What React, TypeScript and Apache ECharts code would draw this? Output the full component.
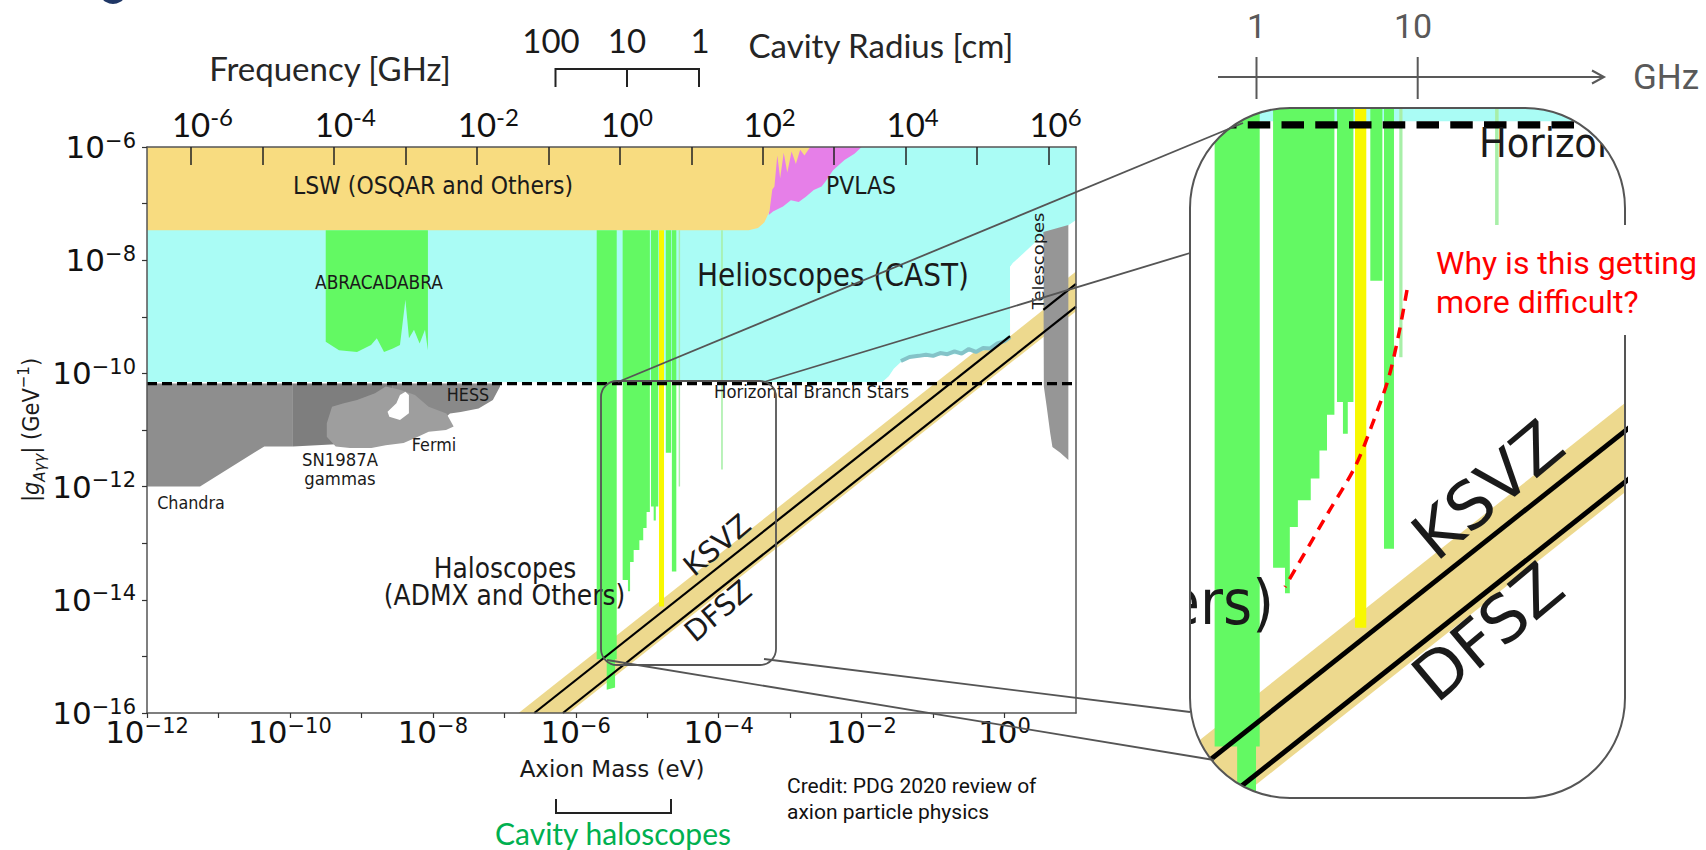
import { useEffect, useRef } from 'react';
import * as echarts from 'echarts';

// ---------------- DATA (log10 units) ----------------
// x = log10(m_a / eV), y = log10(|g_Aγγ| / GeV^-1)
const MASS_MIN = -12;
const MASS_MAX = 1;
const COUPLING_MIN = -16;
const COUPLING_MAX = -6;
const MASS_TICKS = [-12, -11, -10, -9, -8, -7, -6, -5, -4, -3, -2, -1, 0];
const MASS_LABELS = [-12, -10, -8, -6, -4, -2, 0];
const COUPLING_TICKS = [-16, -15, -14, -13, -12, -11, -10, -9, -8, -7, -6];
const COUPLING_LABELS = [-16, -14, -12, -10, -8, -6];
// top axis: frequency in GHz, f = m / 4.1357e-6 eV
const LOG_GHZ_PER_EV = 5.3835;
const FREQ_TICKS = [-6, -5, -4, -3, -2, -1, 0, 1, 2, 3, 4, 5, 6];
const FREQ_LABELS = [-6, -4, -2, 0, 2, 4, 6];
// magnified inset window
const INSET_MASS = [-5.86, -3.158];
const INSET_COUPLING = [-15.454, -10.047];

type Pt = [number, number];

const AXION_BAND: Pt[] = [[-6.8, -16], [1.0, -8.2], [1.0, -8.9], [-6.1, -16]];
const KSVZ_LOW: Pt[] = [[-6.58, -16], [0.077, -9.343]];
const KSVZ_HIGH: Pt[] = [[0.543, -8.877], [1.0, -8.42]];
const DFSZ: Pt[] = [[-6.18, -16], [1.0, -8.82]];
const HB_STARS: Pt[] = [[-12, -10.18], [1.0, -10.18]];

const HELIOSCOPES: Pt[] = [
  [-12, -6], [1.0, -6], [1.0, -7.29], [0.118, -8.05], [0.077, -8.12], [0.077, -9.36],
  [0.0, -9.42], [-0.1, -9.5], [-0.2, -9.55], [-0.3, -9.6], [-0.45, -9.6], [-0.6, -9.66],
  [-0.8, -9.66], [-1.0, -9.7], [-1.2, -9.71], [-1.33, -9.73], [-1.45, -9.8], [-1.55, -9.92],
  [-1.62, -10.05], [-1.71, -10.15], [-12, -10.15],
];
const CAST_EDGE: Pt[] = [
  [-1.45, -9.78], [-1.33, -9.71], [-1.2, -9.69], [-1.1, -9.67], [-1.0, -9.69], [-0.9, -9.64],
  [-0.8, -9.66], [-0.7, -9.61], [-0.6, -9.65], [-0.5, -9.57], [-0.4, -9.62], [-0.3, -9.55],
  [-0.2, -9.56], [-0.1, -9.47], [0.0, -9.43], [0.077, -9.36],
];
const PVLAS: Pt[] = [
  [-3.3, -7.2], [-3.2, -6.0], [-2.0, -6.0], [-2.1, -6.12], [-2.24, -6.23], [-2.4, -6.41],
  [-2.5, -6.6], [-2.56, -6.7], [-2.67, -6.76], [-2.78, -6.88], [-2.88, -6.97], [-2.99, -6.94],
  [-3.1, -7.05], [-3.24, -7.14],
];
const LSW: Pt[] = [
  [-12, -6], [-2.72, -6], [-2.8, -6.15], [-2.86, -6.05], [-2.92, -6.3], [-2.98, -6.08],
  [-3.04, -6.45], [-3.09, -6.1], [-3.14, -6.55], [-3.18, -6.15], [-3.22, -6.7], [-3.25, -6.75],
  [-3.29, -7.14], [-3.36, -7.33], [-3.45, -7.43], [-3.58, -7.47], [-12, -7.47],
];
const ABRACADABRA: Pt[] = [
  [-9.499, -7.47], [-8.069, -7.47], [-8.069, -9.59], [-8.11, -9.23], [-8.185, -9.47],
  [-8.264, -9.23], [-8.334, -9.38], [-8.384, -8.7], [-8.46, -9.5], [-8.559, -9.56],
  [-8.683, -9.62], [-8.784, -9.38], [-8.865, -9.5], [-9.061, -9.62], [-9.313, -9.59], [-9.499, -9.44],
];
const CHANDRA: Pt[] = [
  [-12, -10.18], [-9.958, -10.18], [-9.958, -11.29], [-10.359, -11.29], [-11.258, -12.0], [-12, -12.0],
];
const SN1987A: Pt[] = [[-9.958, -10.18], [-8.56, -10.18], [-8.56, -11.2], [-9.958, -11.29]];
const HESS: Pt[] = [
  [-8.559, -10.18], [-7.06, -10.18], [-7.06, -10.23], [-7.16, -10.47], [-7.36, -10.62],
  [-7.61, -10.68], [-7.76, -10.71], [-7.86, -10.82], [-8.06, -10.75], [-8.3, -10.5], [-8.559, -10.35],
];
const FERMI: Pt[] = [
  [-9.484, -10.88], [-9.411, -10.59], [-9.259, -10.53], [-9.061, -10.47], [-8.809, -10.35],
  [-8.66, -10.23], [-8.46, -10.29], [-8.25, -10.38], [-8.059, -10.59], [-7.81, -10.71],
  [-7.709, -10.94], [-7.816, -11.0], [-8.059, -11.03], [-8.209, -11.12], [-8.409, -11.23],
  [-8.66, -11.27], [-8.86, -11.32], [-9.159, -11.32], [-9.359, -11.29], [-9.484, -11.12],
];
const FERMI_GAP: Pt[] = [
  [-8.609, -10.765], [-8.634, -10.677], [-8.51, -10.528], [-8.46, -10.382], [-8.384, -10.323],
  [-8.335, -10.382], [-8.335, -10.705], [-8.46, -10.823],
];
const HALO_A: Pt[] = [
  [-5.707, -7.47], [-5.427, -7.47], [-5.427, -15.05], [-5.45, -15.05], [-5.45, -15.55],
  [-5.567, -15.59], [-5.567, -15.05], [-5.707, -15.05],
];
const HALO_B: Pt[] = [
  [-5.344, -7.47], [-4.963, -7.47], [-4.963, -12.45], [-5.009, -12.45], [-5.009, -12.73],
  [-5.056, -12.73], [-5.056, -12.95], [-5.11, -12.95], [-5.11, -13.12], [-5.19, -13.12],
  [-5.19, -13.33], [-5.24, -13.33], [-5.24, -13.85], [-5.27, -13.85], [-5.27, -13.65], [-5.344, -13.65],
];
const HALO_C: Pt[] = [
  [-4.947, -7.47], [-4.845, -7.47], [-4.845, -12.35], [-4.88, -12.35], [-4.88, -12.6],
  [-4.91, -12.6], [-4.91, -12.35], [-4.947, -12.35],
];
const HALO_YELLOW: Pt[] = [[-4.835, -7.47], [-4.765, -7.47], [-4.765, -14.12], [-4.835, -14.12]];
const HALO_D: Pt[] = [[-4.74, -7.47], [-4.665, -7.47], [-4.665, -11.4], [-4.74, -11.4]];
const HALO_E: Pt[] = [[-4.655, -7.47], [-4.593, -7.47], [-4.593, -13.5], [-4.655, -13.5]];
const HALO_F: Pt[] = [[-4.56, -7.47], [-4.54, -7.47], [-4.54, -12.0], [-4.56, -12.0]];
const HALO_G: Pt[] = [[-3.965, -7.47], [-3.943, -7.47], [-3.943, -11.7], [-3.965, -11.7]];
const TELESCOPES: Pt[] = [
  [0.543, -7.5], [0.893, -7.38], [0.893, -11.53], [0.78, -11.4], [0.67, -11.3],
  [0.64, -11.06], [0.59, -10.59], [0.55, -10.23],
];
const TELESCOPE_GAP: Pt[] = [[0.077, -8.12], [0.118, -8.05], [0.543, -7.55], [0.543, -8.877], [0.077, -9.343]];

// ---------------- STYLE ----------------
const COL = {
  band: '#EDD98E',
  cyan: '#AAFCF5',
  castEdge: '#84C3C8',
  pvlas: '#E67FE8',
  lsw: '#F8DC80',
  green: '#63F963',
  lightGreen: '#A8EFA8',
  yellow: '#F8F800',
  chandra: '#8E8E8E',
  sn: '#7E7E7E',
  hess: '#898989',
  fermi: '#9E9E9E',
  telescopes: '#969696',
};

function clipPoly(pts: number[][], x0: number, y0: number, x1: number, y1: number) {
  const inside = [
    (p: number[]) => p[0] >= x0,
    (p: number[]) => p[0] <= x1,
    (p: number[]) => p[1] >= y0,
    (p: number[]) => p[1] <= y1,
  ];
  const cut = [
    (a: number[], b: number[]) => [x0, a[1] + ((x0 - a[0]) / (b[0] - a[0])) * (b[1] - a[1])],
    (a: number[], b: number[]) => [x1, a[1] + ((x1 - a[0]) / (b[0] - a[0])) * (b[1] - a[1])],
    (a: number[], b: number[]) => [a[0] + ((y0 - a[1]) / (b[1] - a[1])) * (b[0] - a[0]), y0],
    (a: number[], b: number[]) => [a[0] + ((y1 - a[1]) / (b[1] - a[1])) * (b[0] - a[0]), y1],
  ];
  let out = pts;
  for (let k = 0; k < 4; k++) {
    const inp = out;
    out = [];
    if (!inp.length) break;
    for (let i = 0; i < inp.length; i++) {
      const cur = inp[i];
      const prev = inp[(i + inp.length - 1) % inp.length];
      const ci = inside[k](cur);
      const pi = inside[k](prev);
      if (ci) {
        if (!pi) out.push(cut[k](prev, cur));
        out.push(cur);
      } else if (pi) {
        out.push(cut[k](prev, cur));
      }
    }
  }
  return out;
}

function poly(pts: Pt[], color: string, xi: number, yi: number) {
  return {
    type: 'custom',
    xAxisIndex: xi,
    yAxisIndex: yi,
    silent: true,
    clip: true,
    data: [pts[0]],
    renderItem: (params: any, api: any) => {
      const cs = params.coordSys;
      const px = pts.map((p) => api.coord(p));
      const clipped = clipPoly(px, cs.x, cs.y, cs.x + cs.width, cs.y + cs.height);
      if (clipped.length < 3) return { type: 'group', children: [] };
      return { type: 'polygon', shape: { points: clipped }, style: { fill: color } };
    },
  };
}

function line(pts: Pt[], color: string, width: number, dash: any, xi: number, yi: number) {
  return {
    type: 'line',
    xAxisIndex: xi,
    yAxisIndex: yi,
    data: pts,
    symbol: 'none',
    showSymbol: false,
    silent: true,
    clip: true,
    lineStyle: { color, width, type: dash },
  };
}

function layer(xi: number, yi: number, k: number) {
  return [
    poly(AXION_BAND, COL.band, xi, yi),
    poly(HELIOSCOPES, COL.cyan, xi, yi),
    line(CAST_EDGE, COL.castEdge, 4 * k, 'solid', xi, yi),
    poly(PVLAS, COL.pvlas, xi, yi),
    poly(LSW, COL.lsw, xi, yi),
    poly(ABRACADABRA, COL.green, xi, yi),
    poly(CHANDRA, COL.chandra, xi, yi),
    poly(SN1987A, COL.sn, xi, yi),
    poly(HESS, COL.hess, xi, yi),
    poly(FERMI, COL.fermi, xi, yi),
    poly(FERMI_GAP, '#ffffff', xi, yi),
    poly(HALO_A, COL.green, xi, yi),
    poly(HALO_B, COL.green, xi, yi),
    poly(HALO_C, COL.green, xi, yi),
    poly(HALO_YELLOW, COL.yellow, xi, yi),
    poly(HALO_D, COL.green, xi, yi),
    poly(HALO_E, COL.green, xi, yi),
    poly(HALO_F, COL.lightGreen, xi, yi),
    poly(HALO_G, COL.lightGreen, xi, yi),
    poly(TELESCOPES, COL.telescopes, xi, yi),
    poly(TELESCOPE_GAP, '#ffffff', xi, yi),
    line(KSVZ_LOW, '#000', 2.2 * k, 'solid', xi, yi),
    line(KSVZ_HIGH, '#000', 2.2 * k, 'solid', xi, yi),
    line(DFSZ, '#000', 2.2 * k, 'solid', xi, yi),
    line(HB_STARS, '#000', 3.2 * k, [10 * k, 5 * k], xi, yi),
  ];
}

const expText = (v: number) => (v < 0 ? '\u2212' + Math.abs(v) : String(v));
const mplRich = {
  b: { fontFamily: 'DejaVu Sans', fontSize: 31, lineHeight: 34, color: '#111' },
  s: { fontFamily: 'DejaVu Sans', fontSize: 21, lineHeight: 21, verticalAlign: 'top', color: '#111' },
};
const topRich = {
  b: { fontFamily: 'Lato', fontSize: 33, lineHeight: 40, color: '#111' },
  s: { fontFamily: 'Lato', fontSize: 24, lineHeight: 24, verticalAlign: 'top', color: '#111' },
  g: { fontFamily: 'Lato', fontSize: 24, lineHeight: 24, verticalAlign: 'top', color: 'rgba(0,0,0,0)' },
};

const INK = '#1a1a1a';
const AX = '#555';

function mplText(text: string, x: number, y: number, size: number, extra: any = {}) {
  return {
    type: 'text',
    x,
    y,
    z: 50,
    scaleY: 1.12,
    silent: true,
    ...extra,
    style: {
      text,
      fontFamily: 'DejaVu Sans',
      fontSize: size,
      fill: INK,
      align: 'center',
      verticalAlign: 'middle',
      ...(extra.style || {}),
    },
  };
}

function slideText(text: string, x: number, y: number, size: number, family: string, fill: string, align = 'center', z = 50) {
  return {
    type: 'text',
    x,
    y,
    z,
    silent: true,
    style: { text, fontFamily: family, fontSize: size, fill, align, verticalAlign: 'middle' },
  };
}

function seg(points: number[][], stroke: string, width: number, z = 70, extra: any = {}) {
  return {
    type: 'polyline',
    z,
    silent: true,
    shape: { points, ...(extra.shape || {}) },
    style: { stroke, lineWidth: width, fill: 'none', ...(extra.style || {}) },
  };
}

// inset frame geometry (pixels)
const IL = 1190, IT = 108, IR = 1625, IB = 798, IRAD = 100;
function arcPts(cx: number, cy: number, r: number, a0: number, a1: number, n = 28) {
  const out: number[][] = [];
  for (let i = 0; i <= n; i++) {
    const a = a0 + ((a1 - a0) * i) / n;
    out.push([cx + r * Math.cos(a), cy + r * Math.sin(a)]);
  }
  return out;
}
const MASKS = [
  [[IL - 6, IT + IRAD], ...arcPts(IL + IRAD, IT + IRAD, IRAD, Math.PI, 1.5 * Math.PI), [IL + IRAD, IT - 6], [IL - 6, IT - 6]],
  [[IR - IRAD, IT - 6], ...arcPts(IR - IRAD, IT + IRAD, IRAD, 1.5 * Math.PI, 2 * Math.PI), [IR + 6, IT + IRAD], [IR + 6, IT - 6]],
  [[IR + 6, IB - IRAD], ...arcPts(IR - IRAD, IB - IRAD, IRAD, 0, 0.5 * Math.PI), [IR - IRAD, IB + 6], [IR + 6, IB + 6]],
  [[IL + IRAD, IB + 6], ...arcPts(IL + IRAD, IB - IRAD, IRAD, 0.5 * Math.PI, Math.PI), [IL - 6, IB - IRAD], [IL - 6, IB + 6]],
];

export default function App() {
  const ref = useRef<HTMLDivElement>(null);
  useEffect(() => {
    if (!ref.current) return;
    const chart = echarts.init(ref.current, undefined, { renderer: 'svg' });
    const deg = Math.PI / 180;

    const graphics: any[] = [
      { type: 'circle', z: 50, shape: { cx: 113, cy: -10, r: 14 }, style: { fill: '#1F3766' } },
      slideText('Frequency [GHz]', 330, 68, 33, 'Lato', '#262626'),
      slideText('100', 551, 40, 33, 'Lato', '#1a1a1a'),
      slideText('10', 627, 40, 33, 'Lato', '#1a1a1a'),
      slideText('1', 700, 40, 33, 'Lato', '#1a1a1a'),
      slideText('Cavity Radius [cm]', 881, 45, 33, 'Lato', '#262626'),
      seg([[555.5, 87], [555.5, 69], [699, 69], [699, 87]], '#222', 2),
      seg([[627, 69], [627, 87]], '#222', 2),
      {
        type: 'text',
        x: 31,
        y: 430,
        z: 50,
        rotation: Math.PI / 2,
        scaleX: 1.0,
        scaleY: 1.1,
        silent: true,
        style: {
          text: '{n||}{i|g}{sub|A\u03b3\u03b3}{n|| (GeV}{sup|\u22121}{n|)}',
          align: 'center',
          verticalAlign: 'middle',
          rich: {
            n: { fontFamily: 'DejaVu Sans', fontSize: 21, lineHeight: 30, fill: INK },
            i: { fontFamily: 'DejaVu Sans', fontSize: 21, fontStyle: 'italic', lineHeight: 30, fill: INK },
            sub: { fontFamily: 'DejaVu Sans', fontSize: 15, fontStyle: 'italic', lineHeight: 15, verticalAlign: 'bottom', fill: INK },
            sup: { fontFamily: 'DejaVu Sans', fontSize: 15, lineHeight: 15, verticalAlign: 'top', fill: INK },
          },
        },
      },
      slideText('Axion Mass (eV)', 612, 769, 23, 'DejaVu Sans', INK),
      seg([[556, 799], [556, 813], [671, 813], [671, 799]], '#222', 2),
      slideText('Cavity haloscopes', 613, 833, 30, 'Lato', '#00B050'),
      slideText('Credit: PDG 2020 review of', 787, 786, 21, 'Roboto', '#111', 'left'),
      slideText('axion particle physics', 787, 812, 21, 'Roboto', '#111', 'left'),

      // labels inside the main plot
      mplText('LSW (OSQAR and Others)', 433, 186, 22),
      mplText('PVLAS', 861, 186, 22),
      mplText('ABRACADABRA', 379, 282, 17),
      mplText('Helioscopes (CAST)', 833, 275, 28),
      mplText('Telescopes', 1038, 261, 16, { rotation: Math.PI / 2, scaleY: 1, scaleX: 1.12 }),
      mplText('Horizontal Branch Stars', 714, 391.5, 16.5, { style: { align: 'left' } }),
      mplText('HESS', 468, 395, 16),
      mplText('Fermi', 434, 445, 16),
      mplText('SN1987A', 340, 460, 16.5),
      mplText('gammas', 340, 479, 16.5),
      mplText('Chandra', 191, 503, 16),
      mplText('Haloscopes', 505, 568, 25),
      mplText('(ADMX and Others)', 504.5, 595, 25),
      mplText('KSVZ', 717, 545, 29, { rotation: 40 * deg, scaleY: 1 }),
      mplText('DFSZ', 718, 611, 29, { rotation: 40 * deg, scaleY: 1 }),

      // labels inside the magnified inset (cut by the inset outline)
      mplText('Horizon', 1479, 143, 37, { style: { align: 'left' } }),
      mplText('hers)', 1274, 602, 56, { style: { align: 'right' } }),
      mplText('KSVZ', 1488, 490, 65, { rotation: 40 * deg, scaleY: 1 }),
      mplText('DFSZ', 1488, 632, 65, { rotation: 40 * deg, scaleY: 1 }),

      // white masks giving the inset its rounded shape
      ...MASKS.map((pts) => ({ type: 'polygon', z: 60, silent: true, shape: { points: pts }, style: { fill: '#ffffff' } })),
      { type: 'rect', z: 60, silent: true, shape: { x: IR + 1, y: 100, width: 1706 - IR, height: 110 }, style: { fill: '#ffffff' } },
      { type: 'rect', z: 60, silent: true, shape: { x: 1120, y: 565, width: IL - 1120 - 0.5, height: 80 }, style: { fill: '#ffffff' } },

      // zoom frame, connectors, inset frame
      { type: 'rect', z: 70, silent: true, shape: { x: 601, y: 381, width: 175, height: 284, r: 16 }, style: { fill: 'none', stroke: AX, lineWidth: 1.8 } },
      seg([[618, 382], [1243, 123]], AX, 1.8),
      seg([[764, 382], [IL, 253]], AX, 1.8),
      seg([[764, 659], [IL, 712]], AX, 1.8),
      seg([[607, 660], [1214, 760]], AX, 1.8),
      { type: 'rect', z: 70, silent: true, shape: { x: IL, y: IT, width: IR - IL, height: IB - IT, r: IRAD }, style: { fill: 'none', stroke: AX, lineWidth: 2 } },

      // GHz scale above inset
      seg([[1218, 77], [1604, 77]], '#595959', 2),
      seg([[1592, 70.5], [1604, 77], [1592, 83.5]], '#595959', 2),
      seg([[1256.5, 57], [1256.5, 99]], '#595959', 2),
      seg([[1417.7, 57], [1417.7, 99]], '#595959', 2),
      slideText('1', 1256.5, 26, 34, 'Roboto', '#595959'),
      slideText('10', 1413, 26, 34, 'Roboto', '#595959'),
      slideText('GHz', 1633, 77, 35, 'Roboto', '#595959', 'left'),

      // annotation
      {
        type: 'polyline',
        z: 75,
        silent: true,
        shape: { points: [[1407, 290], [1398, 338], [1388, 380], [1372, 425], [1355, 467], [1328, 513], [1285, 587]], smooth: 0.3 },
        style: { stroke: '#FF0000', lineWidth: 3.5, lineDash: [11, 8], fill: 'none' },
      },
      { type: 'rect', z: 80, silent: true, shape: { x: 1417, y: 225, width: 289, height: 110 }, style: { fill: '#ffffff' } },
      slideText('Why is this getting', 1436, 263, 32, 'Roboto', '#FF0000', 'left', 90),
      slideText('more difficult?', 1436, 302, 32, 'Roboto', '#FF0000', 'left', 90),
    ];

    const option: any = {
      animation: false,
      grid: [
        { left: 147, top: 147, width: 929, height: 566, show: false },
        { left: IL, top: IT, width: IR - IL, height: IB - IT, show: false },
      ],
      xAxis: [
        {
          gridIndex: 0,
          type: 'value',
          position: 'bottom',
          min: MASS_MIN,
          max: MASS_MAX,
          z: 10,
          axisLine: { show: true, onZero: false, lineStyle: { color: AX, width: 1.5 } },
          axisTick: { show: true, customValues: MASS_TICKS, length: 5, lineStyle: { color: '#333', width: 1.2 } },
          axisLabel: { show: true, customValues: MASS_LABELS, margin: 2, formatter: (v: number) => `{b|10}{s|${expText(v)}}`, rich: mplRich },
          splitLine: { show: false },
        },
        {
          gridIndex: 0,
          type: 'value',
          position: 'top',
          min: MASS_MIN + LOG_GHZ_PER_EV,
          max: MASS_MAX + LOG_GHZ_PER_EV,
          z: 10,
          axisLine: { show: true, onZero: false, lineStyle: { color: AX, width: 1.5 } },
          axisTick: { show: true, inside: true, customValues: FREQ_TICKS, length: 18, lineStyle: { color: '#222', width: 1.5 } },
          axisLabel: {
            show: true,
            customValues: FREQ_LABELS,
            margin: 3,
            formatter: (v: number) => {
              const e = v < 0 ? '-' + Math.abs(v) : String(v);
              return `{g|${e}}{b|10}{s|${e}}`;
            },
            rich: topRich,
          },
          splitLine: { show: false },
        },
        { gridIndex: 1, type: 'value', min: INSET_MASS[0], max: INSET_MASS[1], show: false, splitLine: { show: false } },
      ],
      yAxis: [
        {
          gridIndex: 0,
          type: 'value',
          min: COUPLING_MIN,
          max: COUPLING_MAX,
          z: 10,
          axisLine: { show: true, onZero: false, lineStyle: { color: AX, width: 1.5 } },
          axisTick: { show: true, customValues: COUPLING_TICKS, length: 5, lineStyle: { color: '#333', width: 1.2 } },
          axisLabel: { show: true, customValues: COUPLING_LABELS, margin: 11, formatter: (v: number) => `{b|10}{s|${expText(v)}}`, rich: mplRich },
          splitLine: { show: false },
        },
        {
          gridIndex: 0,
          type: 'value',
          position: 'right',
          min: COUPLING_MIN,
          max: COUPLING_MAX,
          z: 10,
          axisLine: { show: true, onZero: false, lineStyle: { color: AX, width: 1.5 } },
          axisTick: { show: false },
          axisLabel: { show: false },
          splitLine: { show: false },
        },
        { gridIndex: 1, type: 'value', min: INSET_COUPLING[0], max: INSET_COUPLING[1], show: false, splitLine: { show: false } },
      ],
      series: [...layer(0, 0, 1), ...layer(2, 2, 2.25)],
      graphic: { elements: graphics },
    };
    chart.setOption(option);
    return () => chart.dispose();
  }, []);

  return (
    <div
      ref={ref}
      style={{ position: 'fixed', left: 0, top: 0, width: 1706, height: 850, background: '#ffffff' }}
    />
  );
}
